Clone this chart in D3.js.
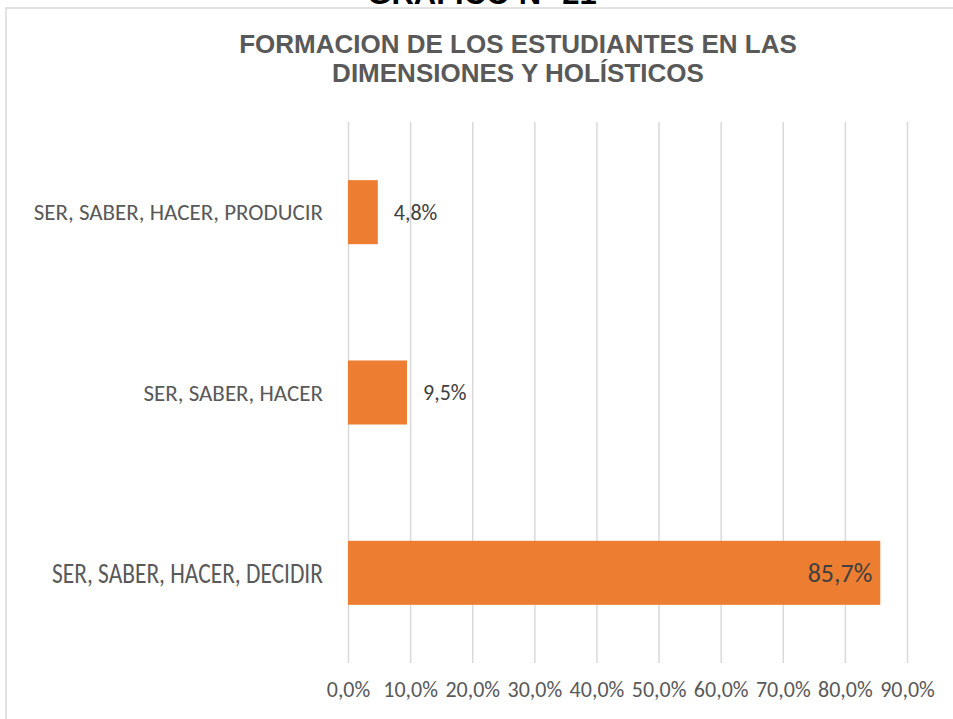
<!DOCTYPE html>
<html>
<head>
<meta charset="utf-8">
<script src="https://cdn.jsdelivr.net/npm/d3@7"></script>
<style>
  html, body { margin: 0; padding: 0; background: #fff; overflow: hidden; }
  svg { display: block; }
</style>
</head>
<body>
<div id="container"></div>
<script>
const categories = ["SER, SABER, HACER, PRODUCIR", "SER, SABER, HACER", "SER, SABER, HACER, DECIDIR"];
const values = [0.048, 0.095, 0.857];
const xTicks = [0, 0.1, 0.2, 0.3, 0.4, 0.5, 0.6, 0.7, 0.8, 0.9];
const titleLines = ["FORMACION DE LOS ESTUDIANTES EN LAS", "DIMENSIONES Y HOLÍSTICOS"];
const headerText = "GRAFICO N° 21";

const w = 953;
const h = 719;
const plotTop = 122, plotBottom = 663, plotLeft = 348, plotRight = 907;

const es = d3.formatLocale({decimal: ",", thousands: ".", grouping: [3], currency: ["", "€"]});
const pct = es.format(".1%");

const svg = d3.select("#container")
    .append("svg")
    .attr("width", w)
    .attr("height", h);

// chart frame (right and bottom fall outside the picture)
svg.append("rect")
    .attr("x", 6).attr("y", 8)
    .attr("width", w + 20).attr("height", h + 20)
    .attr("fill", "none")
    .attr("stroke", "#d9d9d9")
    .attr("stroke-width", 1.5);

// page heading, cropped at the top like in the scan
svg.append("text")
    .text(headerText)
    .attr("x", 482).attr("y", 4)
    .attr("text-anchor", "middle")
    .attr("font-family", "Liberation Sans, Arial, sans-serif")
    .attr("font-weight", "bold")
    .attr("font-size", 31)
    .attr("fill", "#000");

svg.append("g").selectAll("text")
    .data(titleLines)
    .enter()
    .append("text")
    .text(d => d)
    .attr("x", 518)
    .attr("y", (d, i) => 53 + i * 29)
    .attr("text-anchor", "middle")
    .attr("font-family", "Liberation Sans, Arial, sans-serif")
    .attr("font-weight", "bold")
    .attr("font-size", 26)
    .attr("fill", "#595959");

const xScale = d3.scaleLinear()
    .domain([0, 0.9])
    .range([plotLeft, plotRight]);

const yScale = d3.scaleBand()
    .domain(categories)
    .range([plotTop, plotBottom])
    .paddingInner(0.645)
    .paddingOuter(0.3225);

// vertical gridlines
const grid = svg.append("g")
    .attr("transform", "translate(0," + plotBottom + ")")
    .call(d3.axisBottom(xScale).tickValues(xTicks).tickSize(-(plotBottom - plotTop)).tickFormat(""));
grid.select(".domain").remove();
grid.selectAll(".tick line")
    .attr("stroke", "#d9d9d9")
    .attr("stroke-width", 1.5);

// tick labels
const xAxis = svg.append("g")
    .attr("transform", "translate(0," + plotBottom + ")")
    .call(d3.axisBottom(xScale).tickValues(xTicks).tickSize(0).tickPadding(18).tickFormat(pct));
xAxis.select(".domain").remove();
xAxis.selectAll("text")
    .attr("font-family", "Carlito, Lato, sans-serif")
    .attr("font-size", 22)
    .attr("fill", "#595959");

svg.selectAll("rect.bar")
    .data(values)
    .enter()
    .append("rect")
    .attr("class", "bar")
    .attr("x", xScale(0))
    .attr("y", (d, i) => yScale(categories[i]))
    .attr("width", d => xScale(d) - xScale(0))
    .attr("height", yScale.bandwidth())
    .attr("fill", "#ed7d31");

// category labels (the last row is squeezed taller in the scan)
svg.append("g").selectAll("text")
    .data(categories)
    .enter()
    .append("text")
    .text(d => d)
    .attr("x", 323)
    .attr("y", d => yScale(d) + yScale.bandwidth() / 2)
    .attr("dy", "0.35em")
    .attr("text-anchor", "end")
    .attr("font-family", "Carlito, Lato, sans-serif")
    .attr("font-size", (d, i) => i === 2 ? 28 : 23)
    .attr("fill", "#595959")
    .each(function(d, i) {
        if (i === 2) {
            d3.select(this)
                .attr("textLength", 271)
                .attr("lengthAdjust", "spacingAndGlyphs");
        }
    });

// value labels
svg.append("g").selectAll("text")
    .data(values)
    .enter()
    .append("text")
    .text(d => pct(d))
    .attr("x", d => d > 0.5 ? xScale(d) - 8 : xScale(d) + 16)
    .attr("y", (d, i) => yScale(categories[i]) + yScale.bandwidth() / 2)
    .attr("dy", "0.35em")
    .attr("text-anchor", d => d > 0.5 ? "end" : "start")
    .attr("font-family", "Carlito, Lato, sans-serif")
    .attr("font-size", d => d > 0.5 ? 26 : 22)
    .attr("fill", "#404040");
</script>
</body>
</html>
